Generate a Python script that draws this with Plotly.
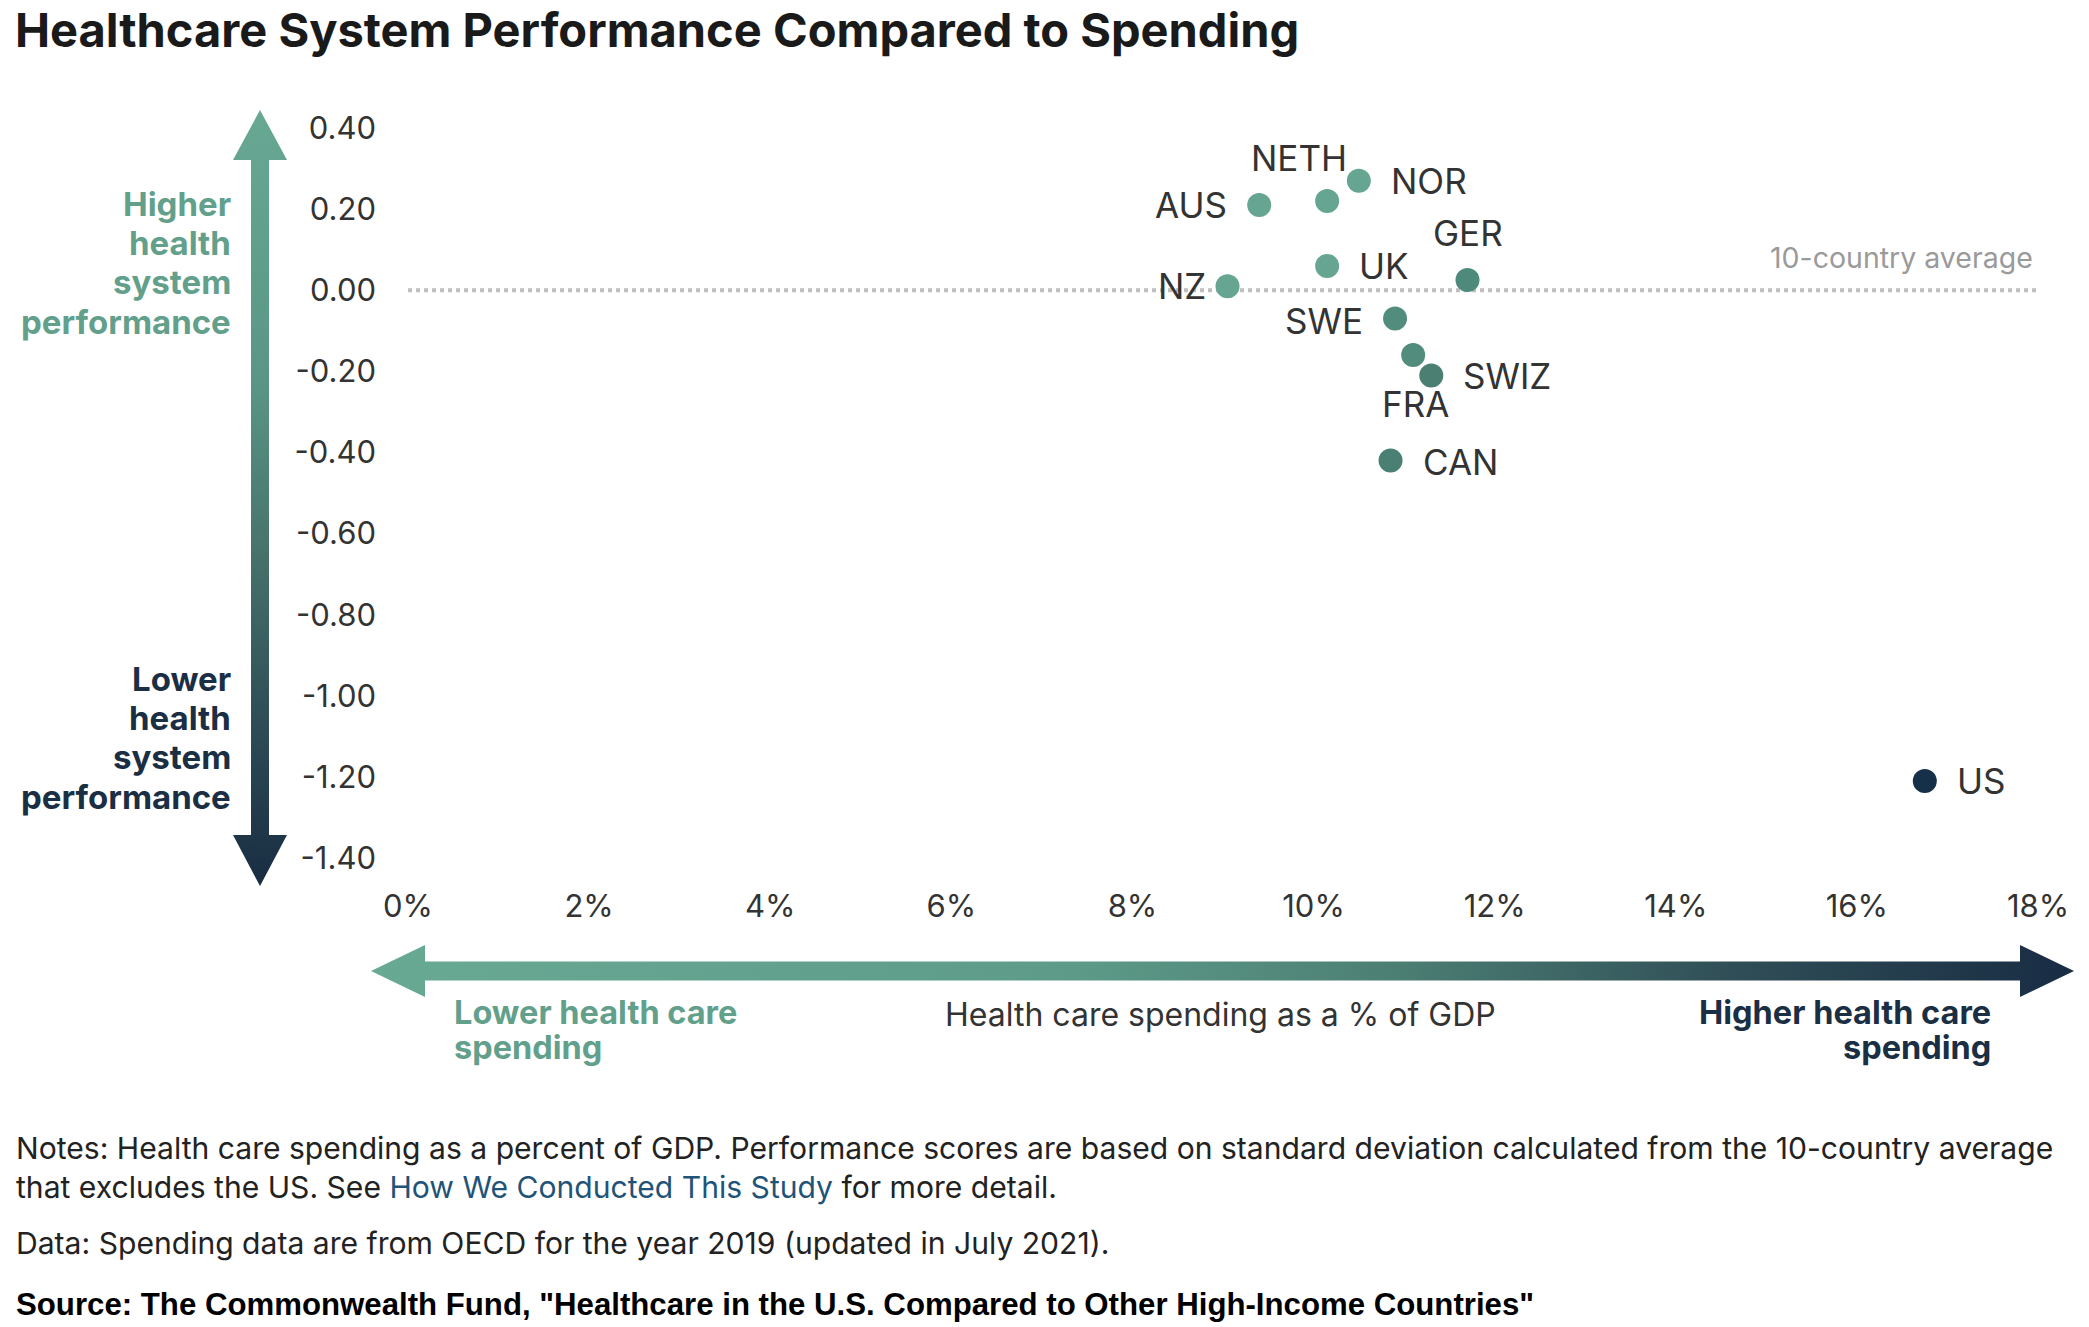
import plotly.graph_objects as go

# ---------------- data ----------------
countries = ["AUS", "NETH", "NOR", "UK", "NZ", "GER", "SWE", "FRA", "SWIZ", "CAN", "US"]
spending_pct = [9.4, 10.15, 10.5, 10.15, 9.05, 11.7, 10.9, 11.1, 11.3, 10.85, 16.75]
performance = [0.21, 0.22, 0.27, 0.06, 0.01, 0.025, -0.07, -0.16, -0.21, -0.42, -1.21]

x_ticks = [0, 2, 4, 6, 8, 10, 12, 14, 16, 18]
x_ticklabels = ["0%", "2%", "4%", "6%", "8%", "10%", "12%", "14%", "16%", "18%"]
y_ticks = [0.4, 0.2, 0.0, -0.2, -0.4, -0.6, -0.8, -1.0, -1.2, -1.4]
y_ticklabels = ["0.40", "0.20", "0.00", "-0.20", "-0.40", "-0.60", "-0.80", "-1.00", "-1.20", "-1.40"]
average_value = 0.0

title_text = "Healthcare System Performance Compared to Spending"
notes_line1 = "Notes: Health care spending as a percent of GDP. Performance scores are based on standard deviation calculated from the 10-country average"
notes_line2 = "that excludes the US. See <span style='color:#1F5478'>How We Conducted This Study</span> for more detail."
data_line = "Data: Spending data are from OECD for the year 2019 (updated in July 2021)."
source_line = "<b>Source: The Commonwealth Fund, \"Healthcare in the U.S. Compared to Other High-Income Countries\"</b>"

# ---------------- styles ----------------
W, H = 2089, 1327
FONT = "Inter, 'Noto Sans', Arial, sans-serif"
TXT = "#333333"
GREEN_T = "#62A08B"
NAVY_T = "#1A2E44"

point_colors = ["#66A591", "#66A591", "#66A591", "#66A591", "#66A591",
                "#4E8A7B", "#528C7D", "#528C7D", "#4A7F72", "#4A7F74", "#16304A"]
# label placement (anchor, xshift px, yshift px)
label_style = {
    "AUS": ("right", "middle", -30, 0),
    "NETH": ("center", "middle", -28, 43),
    "NOR": ("left", "middle", 30, 0),
    "UK": ("left", "middle", 30, 0),
    "NZ": ("right", "middle", -20, 0),
    "GER": ("center", "middle", 0, 47),
    "SWE": ("right", "middle", -30, -2),
    "FRA": ("center", "middle", 2, -49),
    "SWIZ": ("left", "middle", 30, -1),
    "CAN": ("left", "middle", 30, -1),
    "US": ("left", "middle", 30, 0),
}

# plot area in pixels
PL, PR, PT, PB = 408, 2038, 128, 858


def px(x):
    return x / W


def py(y):
    return 1 - y / H


fig = go.Figure()

# gradient arrows on a full-page pixel axis
def up(y):
    return H - y

yarrow_x = [260, 287, 269, 269, 287, 260, 233, 251, 251, 233, 260]
yarrow_y = [110, 160, 160, 835, 835, 886, 835, 835, 160, 160, 110]
fig.add_trace(go.Scatter(
    x=yarrow_x, y=[up(v) for v in yarrow_y], xaxis="x2", yaxis="y2",
    mode="lines", line=dict(width=0), fill="toself", hoverinfo="skip", showlegend=False,
    fillgradient=dict(type="vertical", start=up(886), stop=up(110),
                      colorscale=[[0, "#182C42"], [0.2, "#2D4B55"], [0.42, "#46716A"],
                                  [0.65, "#5A9686"], [1, "#67A893"]]),
))
xarrow_x = [371, 425, 425, 2020, 2020, 2074, 2020, 2020, 425, 425, 371]
xarrow_y = [971, 945, 961.5, 961.5, 945, 971, 997, 980.5, 980.5, 997, 971]
fig.add_trace(go.Scatter(
    x=xarrow_x, y=[up(v) for v in xarrow_y], xaxis="x2", yaxis="y2",
    mode="lines", line=dict(width=0), fill="toself", hoverinfo="skip", showlegend=False,
    fillgradient=dict(type="horizontal", start=371, stop=2074,
                      colorscale=[[0, "#68A994"], [0.4, "#5E9C89"], [0.6, "#4C7F74"],
                                  [0.8, "#304E57"], [1, "#182C43"]]),
))

# data points
fig.add_trace(go.Scatter(
    x=spending_pct, y=performance, mode="markers",
    marker=dict(size=24, color=point_colors, line=dict(width=0)),
    text=countries, hovertemplate="%{text}: %{x}%, %{y}<extra></extra>",
    showlegend=False, cliponaxis=False,
))

annotations = []
for c, xv, yv in zip(countries, spending_pct, performance):
    xa, ya, xs, ys = label_style[c]
    annotations.append(dict(x=xv, y=yv, xref="x", yref="y", text=c, showarrow=False,
                            xanchor=xa, yanchor=ya, xshift=xs, yshift=ys,
                            font=dict(family=FONT, size=35, color=TXT)))

# average line
fig.add_shape(type="line", xref="x", yref="y", x0=0, x1=18, y0=average_value, y1=average_value,
              line=dict(color="#BFBFBF", width=4, dash="dot"), layer="below")
annotations.append(dict(x=px(2035), y=py(257), xref="paper", yref="paper", text="10-country average",
                        showarrow=False, xanchor="right", yanchor="middle",
                        font=dict(family=FONT, size=28.5, color="#9A9A9A")))

# title
annotations.append(dict(x=px(14), y=1, xref="paper", yref="paper", text="<b>" + title_text + "</b>",
                        showarrow=False, xanchor="left", yanchor="top", borderpad=0,
                        font=dict(family=FONT, size=47, color="#1A1A1A")))

# y side labels
for i, t in enumerate(["Higher", "health", "system", "performance"]):
    annotations.append(dict(x=px(233), y=py(204 + i * 39.2), xref="paper", yref="paper",
                            text="<b>" + t + "</b>", showarrow=False, xanchor="right", yanchor="middle",
                            font=dict(family=FONT, size=33, color=GREEN_T)))
for i, t in enumerate(["Lower", "health", "system", "performance"]):
    annotations.append(dict(x=px(233), y=py(679 + i * 39.2), xref="paper", yref="paper",
                            text="<b>" + t + "</b>", showarrow=False, xanchor="right", yanchor="middle",
                            font=dict(family=FONT, size=33, color=NAVY_T)))

# x side labels
for i, t in enumerate(["Lower health care", "spending"]):
    annotations.append(dict(x=px(452), y=py(1012 + i * 35), xref="paper", yref="paper",
                            text="<b>" + t + "</b>", showarrow=False, xanchor="left", yanchor="middle",
                            font=dict(family=FONT, size=32.5, color=GREEN_T)))
for i, t in enumerate(["Higher health care", "spending"]):
    annotations.append(dict(x=px(1993), y=py(1012 + i * 35), xref="paper", yref="paper",
                            text="<b>" + t + "</b>", showarrow=False, xanchor="right", yanchor="middle",
                            font=dict(family=FONT, size=32.5, color=NAVY_T)))
annotations.append(dict(x=px(1220), y=py(1014), xref="paper", yref="paper",
                        text="Health care spending as a % of GDP", showarrow=False,
                        xanchor="center", yanchor="middle",
                        font=dict(family=FONT, size=32, color=TXT)))

# notes
for yv, t in [(1148, notes_line1), (1187, notes_line2), (1243, data_line)]:
    annotations.append(dict(x=px(14), y=py(yv), xref="paper", yref="paper", text=t, showarrow=False,
                            xanchor="left", yanchor="middle",
                            font=dict(family=FONT, size=30.1, color="#222222")))
annotations.append(dict(x=px(14), y=py(1304), xref="paper", yref="paper", text=source_line,
                        showarrow=False, xanchor="left", yanchor="middle",
                        font=dict(family="'Liberation Sans Narrow', 'Arial Narrow', 'Liberation Sans', Arial, sans-serif",
                                  size=31.2, color="#000000")))

fig.update_layout(
    width=W, height=H, autosize=False,
    margin=dict(l=0, r=0, t=0, b=0, pad=0),
    paper_bgcolor="white", plot_bgcolor="rgba(0,0,0,0)",
    showlegend=False,
    xaxis=dict(domain=[px(PL), px(PR)], range=[0, 18], tickvals=x_ticks, ticktext=x_ticklabels,
               showgrid=False, zeroline=False, showline=False, ticks="",
               ticklabelstandoff=27, automargin=False,
               tickfont=dict(family=FONT, size=31, color=TXT), fixedrange=True),
    yaxis=dict(domain=[py(PB), py(PT)], range=[-1.4, 0.4], tickvals=y_ticks, ticktext=y_ticklabels,
               showgrid=False, zeroline=False, showline=False, ticks="",
               ticklabelstandoff=31, automargin=False,
               tickfont=dict(family=FONT, size=31, color=TXT), fixedrange=True),
    xaxis2=dict(domain=[0, 1], range=[0, W], visible=False, anchor="y2", fixedrange=True),
    yaxis2=dict(domain=[0, 1], range=[0, H], visible=False, anchor="x2", fixedrange=True),
    annotations=annotations,
)

fig.write_html("out.html", config={"displayModeBar": False},
               post_script="document.body.style.margin='0px';document.body.style.overflow='hidden';")
